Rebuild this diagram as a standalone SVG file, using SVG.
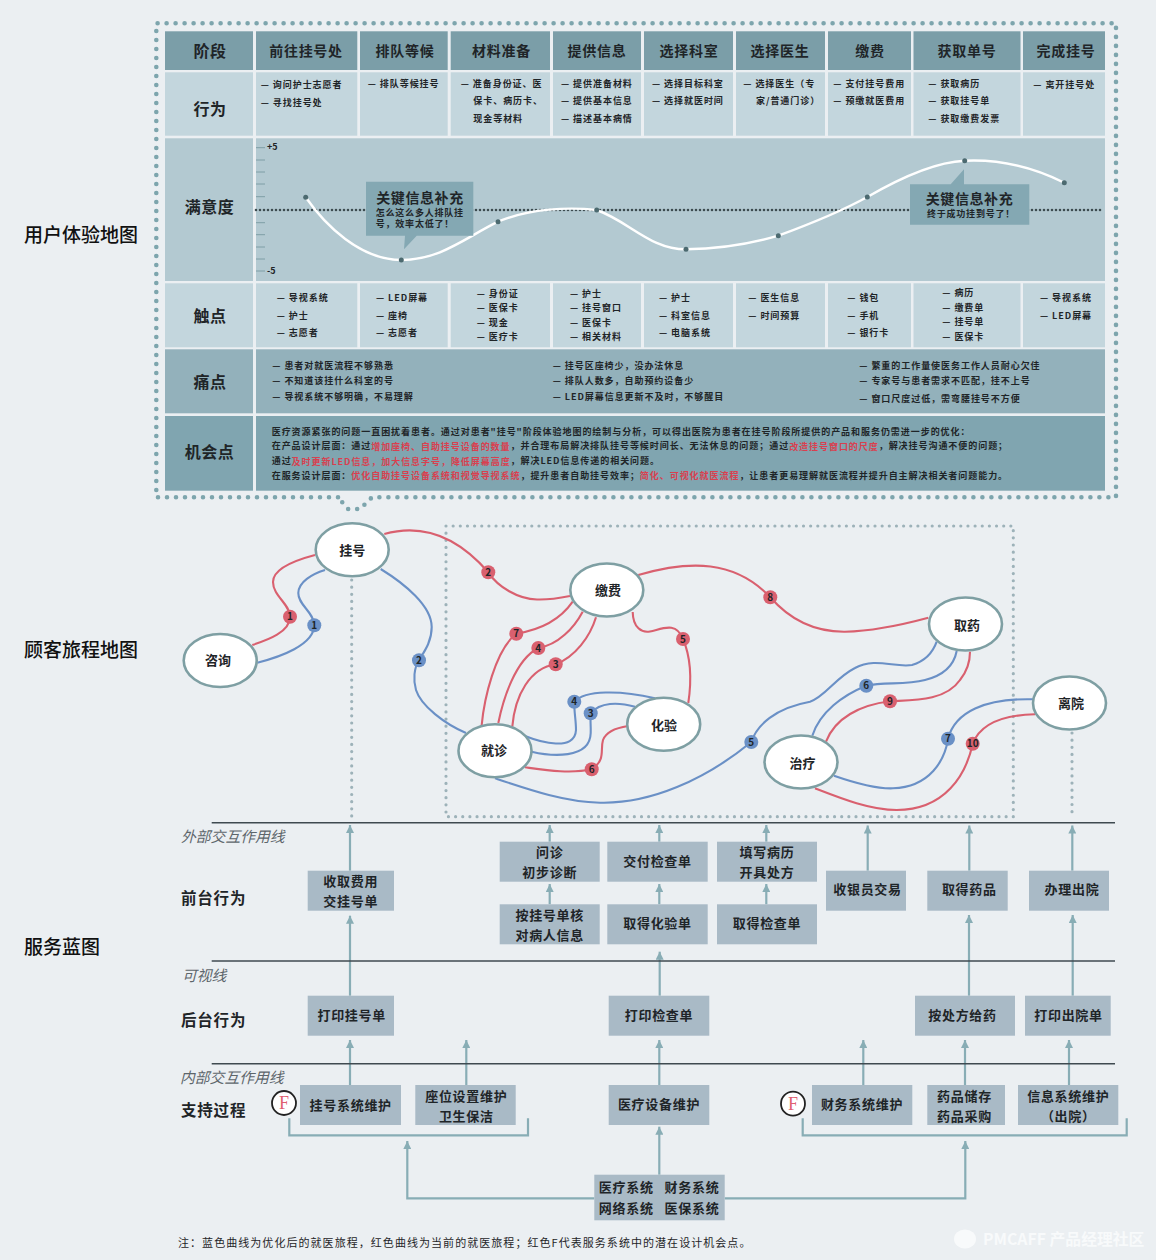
<svg xmlns="http://www.w3.org/2000/svg" width="1156" height="1260" viewBox="0 0 1156 1260">
<defs>
<marker id="ah" markerUnits="userSpaceOnUse" markerWidth="9" markerHeight="8" refX="8" refY="4" orient="auto"><path d="M0,0L8,4L0,8z" fill="#88adb5"/></marker>
</defs>
<style>
text{font-family:"Noto Sans CJK SC","Noto Sans",sans-serif;dominant-baseline:central;fill:#1f2528;transform:translateY(-1px)}
.hd{font-size:14px;font-weight:700;letter-spacing:.7px;text-anchor:middle}
.rl{font-size:16px;font-weight:700;letter-spacing:.5px;text-anchor:middle}
.li{font-size:9px;font-weight:700;letter-spacing:.95px}
.red{fill:#d9404f}
.sec{font-size:19px;font-weight:500;fill:#111}
.cur{fill:none;stroke-width:2.1}
.r{stroke:#d9606f}.b{stroke:#6a90c6}
.rb{fill:#d9606f}.bb{fill:#6a90c6}
.n{font-size:10px;font-weight:700;text-anchor:middle}
.node{fill:#fff;stroke:#7e9fa3;stroke-width:2.6}
.nt{font-size:13px;font-weight:700;text-anchor:middle}
.box{fill:#a9bac6}
.bt{font-size:13px;font-weight:700;letter-spacing:.7px;text-anchor:middle}
.it{font-size:14.8px;font-style:italic;fill:#5d666b}
.lab{font-size:15.5px;font-weight:700;letter-spacing:.8px}
.ar{stroke:#88adb5;stroke-width:2.2;fill:none}
.sl{stroke:#3f4a50;stroke-width:1.5}
.ck{font-size:18px;font-family:"Liberation Serif",serif;text-anchor:middle;fill:#e0606f}
.tick{stroke:#7e9ea6;stroke-width:1}
.pt{fill:#4c6a70}
.ct{font-size:14px;font-weight:700;letter-spacing:.6px;text-anchor:middle}
.cs{font-size:9px;font-weight:700;letter-spacing:.8px}
.hc{fill:#7b9ea8}.lc{fill:#c3d6dd}.sc{fill:#b3c9d1}.pc{fill:#93b1bb}.oc{fill:#80a5b0}
</style>
<rect width="1156" height="1260" fill="#ebeff2"/>

<g id="section-labels">
<text class="sec" x="24" y="234">用户体验地图</text>
<text class="sec" x="24" y="649">顾客旅程地图</text>
<text class="sec" x="24" y="946">服务蓝图</text>
</g>

<path id="map-frame" d="M338,497.3H156.3V23.3H1116V497.3H372L360,509H348Z" fill="none" stroke="#7da5ad" stroke-width="4.6" stroke-linecap="round" stroke-dasharray="0 9"/>

<g id="experience-map">
<g id="cells">
<rect class="hc" x="165" y="31.3" width="88" height="38.7"/><rect class="hc" x="256" y="31.3" width="101.3" height="38.7"/><rect class="hc" x="360" y="31.3" width="87.7" height="38.7"/><rect class="hc" x="450.7" y="31.3" width="99.3" height="38.7"/><rect class="hc" x="553" y="31.3" width="88" height="38.7"/><rect class="hc" x="644" y="31.3" width="89" height="38.7"/><rect class="hc" x="736" y="31.3" width="89" height="38.7"/><rect class="hc" x="828" y="31.3" width="83" height="38.7"/><rect class="hc" x="913.5" y="31.3" width="107" height="38.7"/><rect class="hc" x="1023" y="31.3" width="82" height="38.7"/>
<rect class="lc" x="165" y="72.3" width="88" height="63.4"/><rect class="lc" x="256" y="72.3" width="101.3" height="63.4"/><rect class="lc" x="360" y="72.3" width="87.7" height="63.4"/><rect class="lc" x="450.7" y="72.3" width="99.3" height="63.4"/><rect class="lc" x="553" y="72.3" width="88" height="63.4"/><rect class="lc" x="644" y="72.3" width="89" height="63.4"/><rect class="lc" x="736" y="72.3" width="89" height="63.4"/><rect class="lc" x="828" y="72.3" width="83" height="63.4"/><rect class="lc" x="913.5" y="72.3" width="107" height="63.4"/><rect class="lc" x="1023" y="72.3" width="82" height="63.4"/>
<rect class="sc" x="165" y="138.3" width="88" height="142.7"/><rect class="sc" x="256" y="138.3" width="849" height="142.7"/>
<rect class="lc" x="165" y="283.3" width="88" height="64"/><rect class="lc" x="256" y="283.3" width="101.3" height="64"/><rect class="lc" x="360" y="283.3" width="87.7" height="64"/><rect class="lc" x="450.7" y="283.3" width="99.3" height="64"/><rect class="lc" x="553" y="283.3" width="88" height="64"/><rect class="lc" x="644" y="283.3" width="89" height="64"/><rect class="lc" x="736" y="283.3" width="89" height="64"/><rect class="lc" x="828" y="283.3" width="83" height="64"/><rect class="lc" x="913.5" y="283.3" width="107" height="64"/><rect class="lc" x="1023" y="283.3" width="82" height="64"/>
<rect class="pc" x="165" y="349.3" width="88" height="64"/><rect class="pc" x="256" y="349.3" width="849" height="64"/>
<rect class="oc" x="165" y="416" width="88" height="74.7"/><rect class="oc" x="256" y="416" width="849" height="74.7"/>
</g>
<g id="headers">
<text class="rl" x="210" y="51.3">阶段</text>
<text class="hd" x="306" y="51">前往挂号处</text><text class="hd" x="405" y="51">排队等候</text><text class="hd" x="501.5" y="51">材料准备</text><text class="hd" x="597" y="51">提供信息</text><text class="hd" x="689" y="51">选择科室</text><text class="hd" x="780" y="51">选择医生</text><text class="hd" x="870" y="51">缴费</text><text class="hd" x="967" y="51">获取单号</text><text class="hd" x="1066" y="51">完成挂号</text>
<text class="rl" x="210" y="109.3">行为</text><text class="rl" x="209.500" y="207.300">满意度</text><text class="rl" x="210" y="316">触点</text><text class="rl" x="210" y="381.700">痛点</text><text class="rl" x="209.500" y="451.700">机会点</text>
</g>
<g id="behaviours">
<text class="li" x="260.700" y="85.3">— 询问护士志愿者</text><text class="li" x="260.700" y="103">— 寻找挂号处</text>
<text class="li" x="367.700" y="84">— 排队等候挂号</text>
<text class="li" x="460.700" y="84">— 准备身份证、医</text><text class="li" x="473.300" y="101.700">保卡、病历卡、</text><text class="li" x="473.300" y="119">现金等材料</text>
<text class="li" x="561" y="84">— 提供准备材料</text><text class="li" x="561" y="101.700">— 提供基本信息</text><text class="li" x="561" y="119">— 描述基本病情</text>
<text class="li" x="652" y="84">— 选择目标科室</text><text class="li" x="652" y="101.700">— 选择就医时间</text>
<text class="li" x="743.300" y="84">— 选择医生（专</text><text class="li" x="756" y="101.700">家/普通门诊）</text>
<text class="li" x="833.300" y="84">— 支付挂号费用</text><text class="li" x="833.300" y="101.700">— 预缴就医费用</text>
<text class="li" x="928.300" y="84">— 获取病历</text><text class="li" x="928.300" y="101.700">— 获取挂号单</text><text class="li" x="928.300" y="119">— 获取缴费发票</text>
<text class="li" x="1033.300" y="85.3">— 离开挂号处</text>
</g>
<g id="satisfaction">
<line x1="256" y1="210" x2="1103" y2="210" stroke="#3d4c50" stroke-width="2.6" stroke-linecap="round" stroke-dasharray="0 4"/>
<path class="tick" d="M256,147.700h9M256,160h9M256,172h9M256,184h9M256,196.700h9M256,222.700h9M256,234.700h9M256,247h9M256,259h9M256,271h9"/>
<text x="267" y="147.700" font-size="9" font-weight="700">+5</text><text x="267" y="271" font-size="9" font-weight="700">-5</text>
<path d="M305.700,197.300C325,225 360,260 401.300,260C440,260 465,238 498,221.700C530,208 570,207 596.700,210C630,222 650,249.300 686,249.300C720,249 750,244 778.300,235.700C810,224 840,212 867.300,197C900,178 935,162 964.700,160.700C1000,159 1035,168 1064.300,182.700" fill="none" stroke="#fff" stroke-width="2.4"/>
<g class="pt"><circle cx="305.700" cy="197.300" r="2.500"/><circle cx="401.300" cy="260" r="2.500"/><circle cx="498" cy="221.700" r="2.500"/><circle cx="596.700" cy="210" r="2.500"/><circle cx="686" cy="249.300" r="2.500"/><circle cx="778.300" cy="235.700" r="2.500"/><circle cx="867.300" cy="197" r="2.500"/><circle cx="964.700" cy="160.700" r="2.500"/><circle cx="1064.300" cy="182.700" r="2.500"/></g>
<path d="M366,181.700H473.300V235.700H416.700L404,249.300L405,235.700H366Z" fill="#84a8b3"/>
<text class="ct" x="420" y="198.300">关键信息补充</text>
<text class="cs" x="375.700" y="213.300">怎么这么多人排队挂</text><text class="cs" x="375.700" y="224">号，效率太低了！</text>
<path d="M910,184.300H950.700L964,169.300V184.300H1029.300V224.700H910Z" fill="#84a8b3"/>
<text class="ct" x="969.500" y="199.300">关键信息补充</text>
<text class="cs" x="971" y="214" text-anchor="middle">终于成功挂到号了！</text>
</g>
<g id="touchpoints">
<text class="li" x="276.700" y="298.700">— 导视系统</text><text class="li" x="276.700" y="316">— 护士</text><text class="li" x="276.700" y="333.700">— 志愿者</text>
<text class="li" x="376" y="298.700">— LED屏幕</text><text class="li" x="376" y="316">— 座椅</text><text class="li" x="376" y="333.700">— 志愿者</text>
<text class="li" x="476.700" y="294">— 身份证</text><text class="li" x="476.700" y="308.700">— 医保卡</text><text class="li" x="476.700" y="323">— 现金</text><text class="li" x="476.700" y="337.700">— 医疗卡</text>
<text class="li" x="570" y="294">— 护士</text><text class="li" x="570" y="308.700">— 挂号窗口</text><text class="li" x="570" y="323">— 医保卡</text><text class="li" x="570" y="337.700">— 相关材料</text>
<text class="li" x="659" y="298.700">— 护士</text><text class="li" x="659" y="316">— 科室信息</text><text class="li" x="659" y="333.700">— 电脑系统</text>
<text class="li" x="748.300" y="298.700">— 医生信息</text><text class="li" x="748.300" y="316">— 时间预算</text>
<text class="li" x="847.300" y="298.700">— 钱包</text><text class="li" x="847.300" y="316">— 手机</text><text class="li" x="847.300" y="333.700">— 银行卡</text>
<text class="li" x="942.300" y="293.700">— 病历</text><text class="li" x="942.300" y="308">— 缴费单</text><text class="li" x="942.300" y="322.700">— 挂号单</text><text class="li" x="942.300" y="337">— 医保卡</text>
<text class="li" x="1040" y="298.700">— 导视系统</text><text class="li" x="1040" y="316">— LED屏幕</text>
</g>
<g id="pain-points">
<text class="li" x="272.300" y="366">— 患者对就医流程不够熟悉</text><text class="li" x="272.300" y="381.700">— 不知道该挂什么科室的号</text><text class="li" x="272.300" y="397.300">— 导视系统不够明确，不易理解</text>
<text class="li" x="552.700" y="366">— 挂号区座椅少，没办法休息</text><text class="li" x="552.700" y="381.700">— 排队人数多，自助预约设备少</text><text class="li" x="552.700" y="397.300">— LED屏幕信息更新不及时，不够醒目</text>
<text class="li" x="859.300" y="366">— 繁重的工作量使医务工作人员耐心欠佳</text><text class="li" x="859.300" y="381.700">— 专家号与患者需求不匹配，挂不上号</text><text class="li" x="859.300" y="399">— 窗口尺度过低，需弯腰挂号不方便</text>
</g>
<g id="opportunities">
<text class="li" x="271.700" y="432.300">医疗资源紧张的问题一直困扰着患者。通过对患者"挂号"阶段体验地图的绘制与分析，可以得出医院为患者在挂号阶段所提供的产品和服务仍需进一步的优化：</text>
<text class="li" x="271.700" y="446.700">在产品设计层面：通过<tspan class="red">增加座椅、自助挂号设备的数量</tspan>，并合理布局解决排队挂号等候时间长、无法休息的问题；通过<tspan class="red">改造挂号窗口的尺度</tspan>，解决挂号沟通不便的问题；</text>
<text class="li" x="271.700" y="461.700">通过<tspan class="red">及时更新LED信息，加大信息字号，降低屏幕高度</tspan>，解决LED信息传递的相关问题。</text>
<text class="li" x="271.700" y="476.300">在服务设计层面：<tspan class="red">优化自助挂号设备系统和视觉导视系统</tspan>，提升患者自助挂号效率；<tspan class="red">简化、可视化就医流程</tspan>，让患者更易理解就医流程并提升自主解决相关者问题能力。</text>
</g>
</g>

<g id="journey-guides" fill="none" stroke="#9db2b9" stroke-width="3.2" stroke-linecap="round" stroke-dasharray="0 7.15">
<rect x="446" y="526" width="567.300" height="290.700"/>
<path d="M351.700,580V818"/>
<path d="M1072,733V814"/>
</g>

<g id="connectors">
<g id="journey-curves">
<path class="cur r" d="M252.300,645C268,640 290,632 290,616.700C290,604 273,596 273,582C273,568 296,560 315,555"/>
<path class="cur b" d="M257.300,662.700C280,657 314,645 314.300,625.300C314,612 298,605 298.300,593C298.500,582 312,574 325,570"/>
<path class="cur b" d="M380.700,569C405,584 431.700,606 431.700,627C431.700,642 424,652 419,660C414,668 413,680 416,690C421,706 445,724 466,733"/>
<path class="cur r" d="M384.300,534C420,524 455,534 488.300,572.300C498,587 518,599 537,599.500C550,600 560,598 570,596"/>
<path class="cur r" d="M572.700,601.700C560,620 540,630 516.300,633.700C495,650 484,700 481.700,725"/>
<path class="cur r" d="M582.700,611.700C574,628 558,645 538.300,648C515,660 503,700 498.300,723"/>
<path class="cur r" d="M596,617.300C590,637 575,657 555.700,664.300C530,668 515,695 512.300,726.700"/>
<path class="cur b" d="M525,736C540,742 575,752 576,730C576,720 574,712 574.300,701.700C585,690 620,690 655,698.300"/>
<path class="cur b" d="M531.700,751.700C550,756 590,760 590.700,733C591,725 590,720 590.700,713.300C600,702 618,702 635,706.700"/>
<path class="cur r" d="M525,767.300C545,770 570,774 591.700,769.300C606,760 600,750 603,740C606,732 615,728 628,726"/>
<path class="cur r" d="M632.700,612C633,628 642,633 650,631.500C662,629 676,621 683,639C692,660 691,685 688.300,703"/>
<path class="cur r" d="M638.300,575C690,560 735,560 770.300,597.300C790,620 815,632 845,631.700C875,631 905,624 928.300,617.700"/>
<path class="cur b" d="M495,778.300C530,790 565,802 600,802.700C650,804 705,780 751.300,742C757,725 775,708 810,701.700C825,697 835,678 855,668C875,657 895,668 912,665C926,661 933,652 936.700,641.700"/>
<path class="cur b" d="M812.300,735.700C820,712 843,695 866.300,685.700C885,682 905,685 925,680C945,675 954,665 956.700,651"/>
<path class="cur r" d="M826,741.700C835,718 860,705 890,701.300C910,700 945,702 960,680C968,670 970,660 970,651.700"/>
<path class="cur b" d="M834,775.700C855,783 875,789 893,788.300C930,787 945,760 948,738.700C955,712 985,698 1033.300,699.300"/>
<path class="cur r" d="M815,788.300C840,798 870,810 896.700,810C945,810 966,775 972.700,743.700C980,725 1000,715 1035,714.300"/>
</g>
<g id="journey-badges">
<circle class="rb" cx="290" cy="616.700" r="7"/><text class="n" x="290" y="616.700">1</text>
<circle class="rb" cx="488.300" cy="572.300" r="7"/><text class="n" x="488.300" y="572.300">2</text>
<circle class="rb" cx="516.300" cy="633.700" r="7"/><text class="n" x="516.300" y="633.700">7</text>
<circle class="rb" cx="538.300" cy="648" r="7"/><text class="n" x="538.300" y="648">4</text>
<circle class="rb" cx="555.700" cy="664.300" r="7"/><text class="n" x="555.700" y="664.300">3</text>
<circle class="rb" cx="591.700" cy="769.300" r="7"/><text class="n" x="591.700" y="769.300">6</text>
<circle class="rb" cx="683" cy="639" r="7"/><text class="n" x="683" y="639">5</text>
<circle class="rb" cx="770.300" cy="597.300" r="7"/><text class="n" x="770.300" y="597.300">8</text>
<circle class="rb" cx="890" cy="701.300" r="7"/><text class="n" x="890" y="701.300">9</text>
<circle class="rb" cx="972.700" cy="743.700" r="7"/><text class="n" x="972.700" y="743.700">10</text>
<circle class="bb" cx="314.300" cy="625.300" r="7"/><text class="n" x="314.300" y="625.300">1</text>
<circle class="bb" cx="419" cy="660.300" r="7"/><text class="n" x="419" y="660.300">2</text>
<circle class="bb" cx="574.300" cy="701.700" r="7"/><text class="n" x="574.300" y="701.700">4</text>
<circle class="bb" cx="590.700" cy="713.300" r="7"/><text class="n" x="590.700" y="713.300">3</text>
<circle class="bb" cx="751.300" cy="742" r="7"/><text class="n" x="751.300" y="742">5</text>
<circle class="bb" cx="866.300" cy="685.700" r="7"/><text class="n" x="866.300" y="685.700">6</text>
<circle class="bb" cx="948" cy="738.700" r="7"/><text class="n" x="948" y="738.700">7</text>
</g>
<g id="blueprint-arrows" class="ar">
<path marker-end="url(#ah)" d="M350,870.700V825"/><path marker-end="url(#ah)" d="M350,995.700V915.700"/>
<path marker-end="url(#ah)" d="M549.700,841.700V825"/><path marker-end="url(#ah)" d="M549.700,904.300V884"/>
<path marker-end="url(#ah)" d="M659.300,841.700V825"/><path marker-end="url(#ah)" d="M659.300,904.300V884"/><path marker-end="url(#ah)" d="M659.700,995.700V951.700"/>
<path marker-end="url(#ah)" d="M766.300,841.700V825"/><path marker-end="url(#ah)" d="M766.300,904.300V884"/>
<path marker-end="url(#ah)" d="M867.700,870.700V825.500"/><path marker-end="url(#ah)" d="M969.300,870.700V825.500"/><path marker-end="url(#ah)" d="M1072.300,870.700V825.500"/>
<path marker-end="url(#ah)" d="M969,995.700V915"/><path marker-end="url(#ah)" d="M1072.700,995.700V915"/>
<path marker-end="url(#ah)" d="M350,1085V1040"/><path marker-end="url(#ah)" d="M466.300,1085V1040"/><path marker-end="url(#ah)" d="M659.300,1085V1040"/><path marker-end="url(#ah)" d="M863.300,1085V1040"/><path marker-end="url(#ah)" d="M965,1085V1040"/><path marker-end="url(#ah)" d="M1069,1085V1040"/>
<path marker-end="url(#ah)" d="M659.300,1174.700V1126.700"/>
<path marker-end="url(#ah)" d="M594.300,1198.300H407.300V1141"/>
<path marker-end="url(#ah)" d="M724.700,1198.300H965.300V1141"/>
</g>
<path id="brackets" class="ar" d="M289.300,1118.300V1135.300H528V1118.300M802.700,1118.300V1135.300H1126.700V1118.300"/>
</g>

<g id="node-guahao"><ellipse class="node" cx="352.200" cy="549.700" rx="36.500" ry="26.500"/><text class="nt" x="352.200" y="550">挂号</text></g>
<g id="node-zixun"><ellipse class="node" cx="220.200" cy="660.500" rx="36.500" ry="26.500"/><text class="nt" x="218" y="660.500">咨询</text></g>
<g id="node-jiaofei"><ellipse class="node" cx="606.800" cy="590" rx="36.500" ry="26.500"/><text class="nt" x="608" y="590.500">缴费</text></g>
<g id="node-jiuzhen"><ellipse class="node" cx="495" cy="750.700" rx="36.500" ry="26.500"/><text class="nt" x="494" y="750">就诊</text></g>
<g id="node-huayan"><ellipse class="node" cx="663.700" cy="724.300" rx="36.500" ry="26.500"/><text class="nt" x="664" y="725">化验</text></g>
<g id="node-quyao"><ellipse class="node" cx="965.500" cy="624" rx="36.500" ry="26.500"/><text class="nt" x="967" y="625">取药</text></g>
<g id="node-zhiliao"><ellipse class="node" cx="801" cy="762" rx="36.500" ry="26.500"/><text class="nt" x="802.500" y="763">治疗</text></g>
<g id="node-liyuan"><ellipse class="node" cx="1069.500" cy="703" rx="36.500" ry="26.500"/><text class="nt" x="1071" y="703.500">离院</text></g>

<g id="swimlanes">
<line class="sl" x1="211.700" y1="822.700" x2="1115" y2="822.700"/>
<line class="sl" x1="211.700" y1="961" x2="1115" y2="961"/>
<line class="sl" x1="211.700" y1="1063.700" x2="1115" y2="1063.700"/>
<text class="it" x="181" y="836.700">外部交互作用线</text>
<text class="it" x="182" y="975">可视线</text>
<text class="it" x="180" y="1077.700">内部交互作用线</text>
<text class="lab" x="181" y="897.700">前台行为</text>
<text class="lab" x="181" y="1019.700">后台行为</text>
<text class="lab" x="181" y="1110">支持过程</text>
</g>

<g id="box-shouqu"><rect class="box" x="307.700" y="870.700" width="86.300" height="40"/><text class="bt" x="350.700" y="881.700">收取费用</text><text class="bt" x="350.700" y="901.700">交挂号单</text></g>
<g id="box-wenzhen"><rect class="box" x="499.700" y="841.700" width="100" height="40"/><text class="bt" x="549.700" y="852.700">问诊</text><text class="bt" x="549.700" y="872.300">初步诊断</text></g>
<g id="box-hedui"><rect class="box" x="499.700" y="904.300" width="100" height="40"/><text class="bt" x="549.700" y="915.300">按挂号单核</text><text class="bt" x="549.700" y="935.300">对病人信息</text></g>
<g id="box-jiaofu"><rect class="box" x="607.300" y="841.700" width="100.400" height="40"/><text class="bt" x="657.500" y="861">交付检查单</text></g>
<g id="box-huayandan"><rect class="box" x="607.300" y="904.300" width="100.400" height="40"/><text class="bt" x="657.500" y="923.700">取得化验单</text></g>
<g id="box-bingli"><rect class="box" x="717" y="841.700" width="100" height="40"/><text class="bt" x="767" y="852.700">填写病历</text><text class="bt" x="767" y="872.300">开具处方</text></g>
<g id="box-jianchadan"><rect class="box" x="717" y="904.300" width="100" height="40"/><text class="bt" x="767" y="923.700">取得检查单</text></g>
<g id="box-shouyin"><rect class="box" x="826" y="870.700" width="80" height="40"/><text class="bt" x="867.500" y="889.700">收银员交易</text></g>
<g id="box-yaopin"><rect class="box" x="927.300" y="870.700" width="80.400" height="40"/><text class="bt" x="969.300" y="889.700">取得药品</text></g>
<g id="box-chuyuan"><rect class="box" x="1029" y="870.700" width="80" height="40"/><text class="bt" x="1072" y="889.700">办理出院</text></g>
<g id="box-dayin-guahao"><rect class="box" x="307.700" y="995.700" width="86.300" height="40"/><text class="bt" x="351.700" y="1015">打印挂号单</text></g>
<g id="box-dayin-jiancha"><rect class="box" x="608.700" y="995.700" width="100.600" height="40"/><text class="bt" x="659" y="1015">打印检查单</text></g>
<g id="box-geiyao"><rect class="box" x="915" y="995.700" width="100" height="40"/><text class="bt" x="962.500" y="1015">按处方给药</text></g>
<g id="box-dayin-chuyuan"><rect class="box" x="1025" y="995.700" width="85.700" height="40"/><text class="bt" x="1068.500" y="1015">打印出院单</text></g>
<g id="box-guahao-weihu"><rect class="box" x="300" y="1085" width="101" height="40"/><text class="bt" x="350.700" y="1105">挂号系统维护</text></g>
<g id="box-zuowei"><rect class="box" x="415.300" y="1085" width="100.400" height="40"/><text class="bt" x="466.300" y="1096.700">座位设置维护</text><text class="bt" x="466.300" y="1116.300">卫生保洁</text></g>
<g id="box-shebei"><rect class="box" x="608.700" y="1085" width="100.600" height="40"/><text class="bt" x="659" y="1104">医疗设备维护</text></g>
<g id="box-caiwu"><rect class="box" x="812" y="1085" width="100.300" height="40"/><text class="bt" x="862" y="1104">财务系统维护</text></g>
<g id="box-chucun"><rect class="box" x="927.300" y="1085" width="77.700" height="40"/><text class="bt" x="964.500" y="1096">药品储存</text><text class="bt" x="964.500" y="1116">药品采购</text></g>
<g id="box-xinxi"><rect class="box" x="1018" y="1085" width="100.300" height="40"/><text class="bt" x="1068.300" y="1096">信息系统维护</text><text class="bt" x="1068.300" y="1116">（出院）</text></g>
<g id="box-xitong"><rect class="box" x="594.300" y="1174.700" width="130.400" height="45.600"/><text class="bt" x="626.200" y="1187.300">医疗系统</text><text class="bt" x="692" y="1187.300">财务系统</text><text class="bt" x="626.200" y="1208.300">网络系统</text><text class="bt" x="692" y="1208.300">医保系统</text></g>

<g id="flag-1"><circle cx="284" cy="1103" r="12" fill="#fff" stroke="#222" stroke-width="1.800"/><text class="ck" x="284" y="1104">F</text></g>
<g id="flag-2"><circle cx="793" cy="1103.700" r="12" fill="#fff" stroke="#222" stroke-width="1.800"/><text class="ck" x="793" y="1104.700">F</text></g>

<text id="note" x="178" y="1243.300" font-size="11" letter-spacing="1.05">注：蓝色曲线为优化后的就医旅程，红色曲线为当前的就医旅程；红色F代表服务系统中的潜在设计机会点。</text>

<g id="watermark">
<ellipse cx="965" cy="1239" rx="11" ry="9.500" fill="#f8fafb"/>
<text x="983" y="1239" font-size="15.800" style="fill:#f8fafb" font-weight="700">PMCAFF 产品经理社区</text>
</g>
</svg>
